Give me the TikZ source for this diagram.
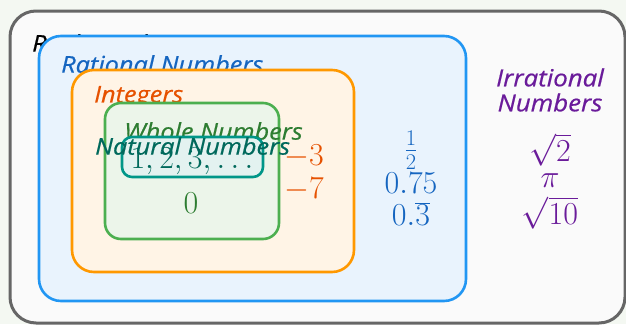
\documentclass[tikz,border=0pt]{standalone}
\usepackage{fix-cm}
\usepackage{fontspec}
\setsansfont{Open Sans}[FakeStretch=1.1, FakeBold=0.6]
\begin{document}
\begin{tikzpicture}[x=1pt,y=-1pt,
  setbox/.style={rounded corners=22pt, line width=2.6pt},
  lab/.style={font=\sffamily\itshape\fontsize{23}{26}\selectfont, anchor=west, inner sep=0pt},
  num/.style={font=\fontsize{32}{34}\selectfont, inner sep=0pt}]
\definecolor{bgc}{HTML}{F4F8F2}
\definecolor{outerc}{HTML}{666666}
\definecolor{ratf}{HTML}{E9F3FD}
\definecolor{ratd}{HTML}{2196F3}
\definecolor{ratt}{HTML}{1565C0}
\definecolor{intf}{HTML}{FFF4E6}
\definecolor{intd}{HTML}{FF9800}
\definecolor{intt}{HTML}{E65100}
\definecolor{whf}{HTML}{ECF5EA}
\definecolor{whd}{HTML}{4CAF50}
\definecolor{wht}{HTML}{2E7D32}
\definecolor{natf}{HTML}{E3F2F0}
\definecolor{natd}{HTML}{009688}
\definecolor{natt}{HTML}{00695C}
\definecolor{irrt}{HTML}{6A1B9A}
\useasboundingbox (0,0) rectangle (626,324);
\clip (0,0) rectangle (626,324);
\fill[bgc] (0,0) rectangle (626,324);
% Real numbers
\draw[setbox, rounded corners=26pt, line width=3pt, draw=outerc, fill=white!98!black] (10,11) rectangle (625,323);
\node[lab, text=black] (real) at (32,43) {Real Numbers};
% Rational
\draw[setbox, draw=ratd, fill=ratf] (39,36) rectangle (466,301);
\node[lab, text=ratt] (rat) at (61,64) {Rational Numbers};
% Integers
\draw[setbox, draw=intd, fill=intf] (72,70) rectangle (354,272);
\node[lab, text=intt] (int) at (94,97) {Integers};
% Whole
\draw[setbox, rounded corners=16pt, draw=whd, fill=whf] (105,103) rectangle (279,239);
\node[lab, text=wht] (whole) at (124,131) {Whole Numbers};
% Natural
\draw[setbox, rounded corners=10pt, draw=natd, fill=natf] (122,137) rectangle (263,177);
\node[num, text=natt] (n123) at (192,161) {$1,2,3,\ldots$};
\node[lab, text=natt] (nat) at (95,146) {Natural Numbers};
% numbers
\node[num, text=wht] (zero) at (191,203) {$0$};
\node[num, text=intt] (m3) at (304,157) {$-3$};
\node[num, text=intt] (m7) at (304,190) {$-7$};
\node[num, text=ratt] (half) at (411,150) {$\frac{1}{2}$};
\node[num, text=ratt] (q75) at (411,183) {$0.75$};
\node[num, text=ratt] (q3) at (411,214) {$0.\overline{3}$};
\node[lab, anchor=center, align=center, text=irrt, font=\sffamily\itshape\fontsize{23.5}{25}\selectfont] (irr) at (550,90) {Irrational\\Numbers};
\node[num, text=irrt] (s2) at (550,150) {$\sqrt{2}$};
\node[num, text=irrt] (pi) at (550,181) {$\pi$};
\node[num, text=irrt] (s10) at (550,213) {$\sqrt{10}$};
\end{tikzpicture}
\end{document}
